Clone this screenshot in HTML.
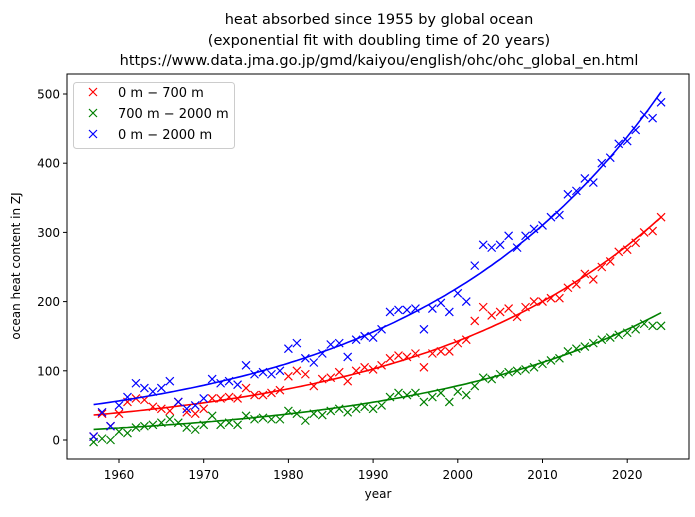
<!DOCTYPE html>
<html><head><meta charset="utf-8"><style>
body{margin:0;background:#fff;}
svg text{font-family:"DejaVu Sans","Liberation Sans",sans-serif;fill:#000;}
</style></head><body>
<svg id="chart" width="695" height="512" xmlns="http://www.w3.org/2000/svg">
<g font-size="14.5" text-anchor="middle">
<text x="379" y="24">heat absorbed since 1955 by global ocean</text>
<text x="379" y="45">(exponential fit with doubling time of 20 years)</text>
<text x="379" y="65">https://www.data.jma.go.jp/gmd/kaiyou/english/ohc/ohc_global_en.html</text>
</g>
<g id="ticks"></g>
<g id="marks"></g>
<rect x="67" y="74" width="622" height="385" fill="none" stroke="#000" stroke-width="1"/>
<text x="378" y="498" font-size="12" text-anchor="middle">year</text>
<text transform="translate(20,266) rotate(-90)" font-size="12" text-anchor="middle">ocean heat content in ZJ</text>
<g id="legend">
<rect x="73.5" y="82.5" width="161" height="66" rx="3" fill="#fff" stroke="#ccc"/>
</g>
</svg>
<script>
const years=[];for(let y=1957;y<=2024;y++)years.push(y);
const red=[5,38,20,38,55,60,58,48,45,42,55,40,38,45,60,60,62,60,75,65,65,68,72,92,100,95,78,88,90,98,85,100,105,102,108,118,122,120,125,105,125,128,128,140,145,172,192,180,185,190,178,192,200,200,205,205,220,225,240,232,250,258,272,275,285,300,302,322];
const green=[-3,2,0,12,10,18,20,22,25,30,25,18,15,22,35,22,25,22,35,30,32,30,30,42,38,28,38,36,42,45,40,45,48,45,50,62,68,65,68,55,62,68,55,70,65,78,90,88,95,98,100,102,105,110,115,118,128,132,135,140,145,148,152,155,160,168,165,165];
const blue=[5,40,20,50,62,82,75,70,75,85,55,45,50,60,88,82,85,80,108,95,98,95,100,132,140,118,112,125,138,140,120,145,150,148,160,185,188,188,190,160,190,198,185,212,200,252,282,278,282,295,278,295,305,310,322,325,355,360,378,372,400,408,428,432,448,470,465,488];
const fitA=[317,187,501];
const fitC=[5,-3,2];
const xTicks=[1960,1970,1980,1990,2000,2010,2020];
const yTicks=[0,100,200,300,400,500];
const seriesNames=["0 m − 700 m","700 m − 2000 m","0 m − 2000 m"];
const colors=["#ff0000","#008000","#0000ff"];
const NS="http://www.w3.org/2000/svg";
const X=v=>119+(v-1960)*8.47;
const Y=v=>440-v*0.692;
function mk(tag,attrs,parent){const e=document.createElementNS(NS,tag);for(const k in attrs)e.setAttribute(k,attrs[k]);parent.appendChild(e);return e;}
const tg=document.getElementById('ticks');
xTicks.forEach(t=>{
 const l=mk('line',{x1:X(t),x2:X(t),y1:459,y2:463,stroke:'#000'},tg);
 
 
 const s=mk('text',{x:X(t),y:479,'font-size':12,'text-anchor':'middle'},tg);s.textContent=t;
 
 
});
yTicks.forEach(t=>{
 const l=mk('line',{x1:63,x2:67,y1:Y(t),y2:Y(t),stroke:'#000'},tg);
 
 
 const s=mk('text',{x:60,y:Y(t)+4.5,'font-size':12,'text-anchor':'end'},tg);s.textContent=t;
 
 
});
const mg=document.getElementById('marks');
function cross(x,y,c,p){const d=`M${x-4},${y-4}L${x+4},${y+4}M${x-4},${y+4}L${x+4},${y-4}`;return mk('path',{d:d,stroke:c,'stroke-width':1.2,fill:'none'},p);}
[red,green,blue].forEach((s,i)=>{
 s.forEach((v,j)=>{const m=cross(X(years[j]),Y(v),colors[i],mg);
  
  });
 let d='';for(let y=1957;y<=2024;y+=0.5){const v=fitA[i]*Math.pow(2,(y-2024)/20)+fitC[i];d+=(d?'L':'M')+X(y).toFixed(1)+','+Y(v).toFixed(1);}
 const p=mk('path',{d:d,stroke:colors[i],'stroke-width':1.6,fill:'none'},mg);
 
 
});
const lg=document.getElementById('legend');
seriesNames.forEach((n,i)=>{
 const y=92+i*21;
 const m=cross(93,y,colors[i],lg);
 
 
 const t=mk('text',{x:118,y:y+5,'font-size':13},lg);t.textContent=n;
 
 
});
</script>
</body></html>
